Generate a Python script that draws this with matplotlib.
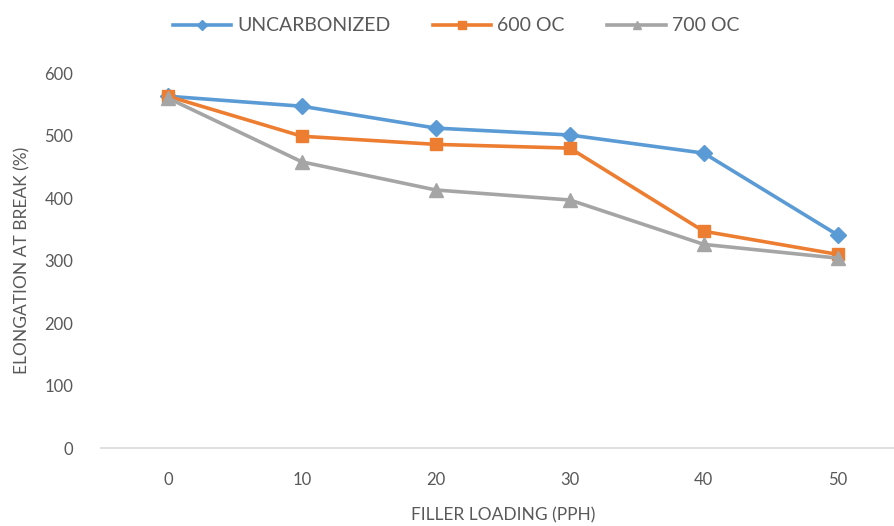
import matplotlib.pyplot as plt

# data
loading = ['0', '10', '20', '30', '40', '50']
uncarbonized = [563, 547, 512, 501, 472, 341]
oc600 = [563, 499, 486, 480, 347, 310]
oc700 = [560, 458, 413, 397, 326, 304]

plt.rcParams['font.family'] = ['Lato', 'DejaVu Sans']
grey_txt = '#595959'

fig = plt.figure(figsize=(8.94, 5.26), dpi=100)
ax = fig.add_axes([0.113, 0.148, 0.899, 0.713])

x = range(len(loading))
ax.plot(x, uncarbonized, color='#5B9BD5', lw=2.6, marker='D', ms=8, label='UNCARBONIZED')
ax.plot(x, oc600, color='#ED7D31', lw=2.6, marker='s', ms=9, label='600 OC')
ax.plot(x, oc700, color='#A5A5A5', lw=2.6, marker='^', ms=10, label='700 OC')

ax.set_xlim(-0.5, len(loading) - 0.5)
ax.set_ylim(0, 600)
ax.set_yticks(range(0, 601, 100))
ax.set_xticks(list(x))
ax.set_xticklabels(loading)

for s in ['top', 'right', 'left']:
    ax.spines[s].set_visible(False)
ax.spines['bottom'].set_color('#D9D9D9')
ax.spines['bottom'].set_linewidth(1.2)
ax.tick_params(length=0, labelsize=12, colors=grey_txt)
ax.tick_params(axis='x', pad=17)
ax.tick_params(axis='y', pad=20)

ax.set_xlabel('FILLER LOADING (PPH)', fontsize=12.5, color=grey_txt, labelpad=14)
ax.set_ylabel('ELONGATION AT BREAK (%)', fontsize=12.5, color=grey_txt, labelpad=10)

fig.legend(loc='upper center', bbox_to_anchor=(0.51, 1.0), ncol=3, frameon=False,
           fontsize=14, labelcolor=grey_txt, handlelength=3, columnspacing=2.2,
           handletextpad=0.3, markerscale=0.6)

plt.savefig('out.png', dpi=100)
